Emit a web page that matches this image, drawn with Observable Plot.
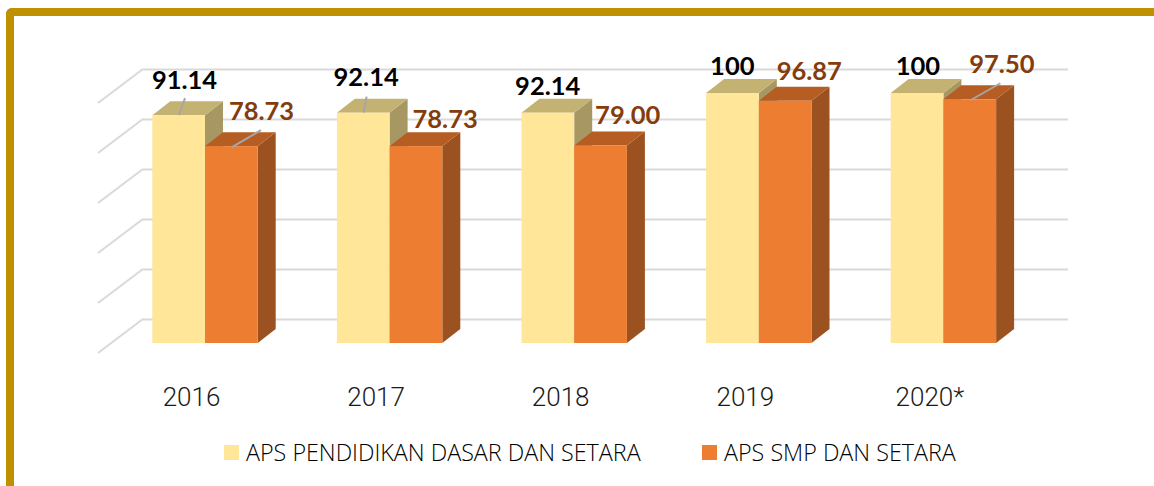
<!DOCTYPE html>
<html>
<head>
<meta charset="utf-8">
<script src="https://cdn.jsdelivr.net/npm/d3@7"></script>
<script src="https://cdn.jsdelivr.net/npm/@observablehq/plot@0.6"></script>
<style>
  html, body { margin: 0; padding: 0; background: #fff; width: 1154px; height: 486px; overflow: hidden; }
  #frame { position: absolute; left: 6px; top: 8px; width: 1148px; height: 490px; box-sizing: border-box;
           border-left: 8px solid #bf9000; border-top: 8px solid #bf9000; border-top-left-radius: 6px; }
  #chart { position: absolute; left: 0; top: 0; }
  #legend { position: absolute; left: 0; top: 0; width: 1154px; height: 486px; font-family: "Open Sans", sans-serif; color: #000; }
  .key { position: absolute; top: 438px; display: flex; align-items: center; height: 28px; font-size: 23.3px; font-weight: 300; white-space: nowrap; }
  .swatch { width: 15px; height: 15px; margin-right: 7px; }
</style>
</head>
<body>
<div id="frame"></div>
<div id="chart"></div>
<div id="legend"></div>
<script>
const years = ["2016", "2017", "2018", "2019", "2020*"];
const seriesNames = ["APS PENDIDIKAN DASAR DAN SETARA", "APS SMP DAN SETARA"];
const dasarValues = [91.14, 92.14, 92.14, 100, 100];
const smpValues = [78.73, 78.73, 79.00, 96.87, 97.50];
const dasarLabels = ["91.14", "92.14", "92.14", "100", "100"];
const smpLabels = ["78.73", "78.73", "79.00", "96.87", "97.50"];
const gridValues = [0, 20, 40, 60, 80, 100];

const faces = [
  {front: "#ffe699", top: "#c4b273", side: "#a69763", text: "#000000"},
  {front: "#ed7d31", top: "#b55d23", side: "#9b5120", text: "#843c0c"}
];

// label placement relative to the top centre of each category band: [dx, dy]
const dasarOffsets = [[-21, -35], [-24, -35], [-27, -26], [-27, -27], [-26, -27]];
const smpOffsets = [[56, -35], [55, -27], [53, -30], [50, -29], [58, -35]];
// leader lines: [series, year index, from, to] offsets from the bar's top
const leaders = [
  [0, 0, [-26, 0], [-20, -17]],
  [1, 0, [27, 1], [56, -16]],
  [0, 1, [-26, 0], [-23, -16]],
  [1, 4, [27, 1], [57, -16]]
];

const data = years.flatMap((year, i) => [
  {year, series: 0, value: dasarValues[i], label: dasarLabels[i], offset: dasarOffsets[i]},
  {year, series: 1, value: smpValues[i], label: smpLabels[i], offset: smpOffsets[i]}
]);

const front = 52.7, half = 92.3, depthX = 18, depthY = 14;

// draws the receded faces of the columns, in order, from the plot's own scales
function boxes(series) {
  return (index, {x, y}) => {
    const g = d3.create("svg:g");
    for (const d of data.filter(d => d.series === series)) {
      const c = x(d.year) + x.bandwidth() / 2;
      const x0 = series === 0 ? c - front : c, x1 = x0 + front;
      const yt = y(d.value), yb = y(0);
      g.append("polygon").attr("fill", faces[series].side)
        .attr("points", [[x1, yt], [x1 + depthX, yt - depthY], [x1 + depthX, yb - depthY], [x1, yb]].join(" "));
      g.append("polygon").attr("fill", faces[series].top)
        .attr("points", [[x0, yt], [x0 + depthX, yt - depthY], [x1 + depthX, yt - depthY], [x1, yt]].join(" "));
    }
    return g.node();
  };
}

function wallDiagonals(index, {y}, values, dimensions) {
  const g = d3.create("svg:g").attr("stroke", "#d9d9d9").attr("stroke-width", 2);
  for (const v of gridValues) {
    g.append("line").attr("x1", dimensions.marginLeft - 45).attr("x2", dimensions.marginLeft)
      .attr("y1", y(v) + 10).attr("y2", y(v) - 24);
  }
  return g.node();
}

function leaderLines(index, {x, y}) {
  const g = d3.create("svg:g").attr("stroke", "#a6a6a6").attr("stroke-width", 2);
  for (const [s, i, from, to] of leaders) {
    const v = (s === 0 ? dasarValues : smpValues)[i];
    const c = x(years[i]) + x.bandwidth() / 2;
    g.append("line").attr("x1", c + from[0]).attr("y1", y(v) + from[1])
      .attr("x2", c + to[0]).attr("y2", y(v) + to[1]);
  }
  return g.node();
}

const bar = s => Plot.barY(data.filter(d => d.series === s), {
  x: "year", y: "value", fill: faces[s].front,
  insetLeft: s === 0 ? half - front : half,
  insetRight: s === 0 ? half : half - front
});

const plot = Plot.plot({
  width: 1154,
  height: 486,
  marginLeft: 143,
  marginRight: 86,
  marginTop: 69,
  marginBottom: 143,
  x: {type: "band", domain: years, range: [112.7, 1035.7], padding: 0, round: false, label: null},
  y: {domain: [0, 100], range: [343, 93], axis: null},
  style: {background: "transparent", overflow: "visible"},
  marks: [
    Plot.axisX({
      anchor: "bottom", tickSize: 0, tickPadding: 0, dx: -14, dy: 54, label: null,
      fontSize: 26, fontWeight: 300, fontFamily: "Roboto", fill: "#1a1a1a", lineAnchor: "middle"
    }),
    Plot.ruleY(gridValues, {y: d => d, dy: -24, stroke: "#d9d9d9", strokeWidth: 2}),
    wallDiagonals,
    boxes(0), bar(0),
    boxes(1), bar(1),
    leaderLines,
    ...data.map(d => Plot.text([d], {
      x: "year", y: "value", text: "label", dx: d.offset[0], dy: d.offset[1],
      fill: faces[d.series].text, fontSize: 25.5, fontWeight: 700, fontFamily: "Lato",
      textAnchor: "middle", lineAnchor: "middle"
    }))
  ]
});
document.getElementById("chart").appendChild(plot);

const legendLeft = [224, 702];
const legend = d3.select("#legend");
seriesNames.forEach((name, i) => {
  const k = legend.append("div").attr("class", "key").style("left", legendLeft[i] + "px");
  k.append("div").attr("class", "swatch").style("background", faces[i].front);
  k.append("span").text(name);
});
</script>
</body>
</html>
